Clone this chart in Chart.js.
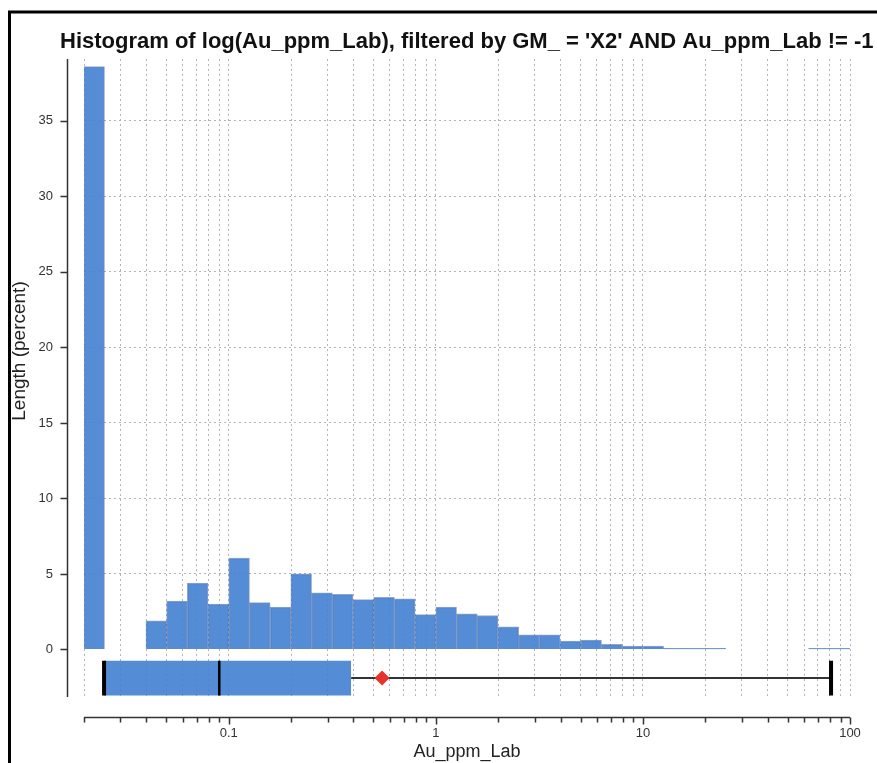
<!DOCTYPE html>
<html lang="en">
<head>
<meta charset="UTF-8">
<title>Histogram of log(Au_ppm_Lab)</title>
<script src="https://cdn.jsdelivr.net/npm/chart.js"></script>
<style>
  body { margin: 0; background: #fff; }
  #chart { display: block; }
</style>
</head>
<body>
<canvas id="chart" width="877" height="763"></canvas>
<script>
// histogram bins: 0.1 decade wide, first bin starts at log10 = -1.7
var binStartLog = -1.7;
var binStepLog = 0.1;
var binPercent = [38.6, null, null, 1.9, 3.2, 4.4, 3.0, 6.05, 3.1, 2.8, 5.0, 3.75,
                  3.65, 3.3, 3.45, 3.35, 2.3, 2.8, 2.35, 2.25, 1.5, 0.97, 0.97, 0.55,
                  0.62, 0.33, 0.22, 0.22, 0.07, 0.07, 0.07, null, null, null, null, 0.07, 0.07];

// box plot of Au_ppm_Lab
var boxStats = { min: 0.025, q1: 0.025, median: 0.09, q3: 0.39, max: 81, mean: 0.55 };

// axes
var xMin = 0.02, xMax = 100;
var xLabelValues = [0.1, 1, 10, 100];
var xLabelText = ['0.1', '1', '10', '100'];
var yMin = -3.15, yMax = 39.1, yStep = 5;

var titleText = "Histogram of log(Au_ppm_Lab), filtered by GM_ = 'X2' AND Au_ppm_Lab != -1";
var yTitle = 'Length (percent)';
var xTitle = 'Au_ppm_Lab';

// where the box sits below zero (y units)
var boxTop = -0.75, boxBottom = -3.05, boxMid = -1.9;

var histData = binPercent.map(function (p, i) {
  return { x: Math.pow(10, binStartLog + binStepLog * (i + 0.5)), y: p };
});

// every 1..9 x 10^n between xMin and xMax, for the grid
var xGridValues = [];
for (var e = -2; e <= 2; e++) {
  for (var m = 1; m <= 9; m++) {
    var v = +(m * Math.pow(10, e)).toPrecision(6);
    if (v >= xMin - 1e-9 && v <= xMax + 1e-9) xGridValues.push(v);
  }
}

function labelFor(value) {
  for (var i = 0; i < xLabelValues.length; i++) {
    if (Math.abs(value - xLabelValues[i]) / xLabelValues[i] < 1e-6) return xLabelText[i];
  }
  return '';
}

var FONT = '"Liberation Sans", Arial, sans-serif';
Chart.defaults.font.family = FONT;
Chart.defaults.color = '#333';

var gridGrey = '#b4b4b4';

var decorations = {
  id: 'decorations',
  beforeDraw: function (chart) {
    var ctx = chart.ctx;
    ctx.save();
    ctx.strokeStyle = '#000';
    ctx.lineWidth = 3;
    ctx.beginPath();
    ctx.moveTo(9.5, 763);
    ctx.lineTo(9.5, 12);
    ctx.lineTo(877, 12);
    ctx.stroke();
    ctx.restore();
  },
  afterDraw: function (chart) {
    var ctx = chart.ctx, area = chart.chartArea;
    var ys = chart.scales.y, xs = chart.scales.xAxis;
    ctx.save();
    ctx.strokeStyle = '#333';
    ctx.lineWidth = 1.5;

    // y spine, set off to the left of the plot
    var sx = Math.round(area.left - 17) + 0.5;
    ctx.beginPath();
    ctx.moveTo(sx, area.top);
    ctx.lineTo(sx, area.bottom);
    ys.ticks.forEach(function (t) {
      var py = Math.round(ys.getPixelForValue(t.value)) + 0.5;
      ctx.moveTo(sx - 7, py);
      ctx.lineTo(sx, py);
    });
    ctx.stroke();

    // x spine, set off below the plot
    var sy = Math.round(area.bottom + 20) + 0.5;
    ctx.beginPath();
    ctx.moveTo(area.left, sy);
    ctx.lineTo(area.right, sy);
    xs.ticks.forEach(function (t) {
      var px = Math.round(xs.getPixelForValue(t.value)) + 0.5;
      ctx.moveTo(px, sy);
      ctx.lineTo(px, sy + (labelFor(t.value) ? 7 : 5));
    });
    ctx.stroke();

    // titles
    ctx.fillStyle = '#111';
    ctx.textBaseline = 'middle';
    ctx.textAlign = 'left';
    ctx.font = 'bold 22px ' + FONT;
    ctx.fillText(titleText, 60, 42);

    ctx.fillStyle = '#222';
    ctx.font = '18px ' + FONT;
    ctx.textAlign = 'center';
    ctx.fillText(xTitle, (area.left + area.right) / 2, 752);

    ctx.translate(20, 351);
    ctx.rotate(-Math.PI / 2);
    ctx.font = '19px ' + FONT;
    ctx.fillText(yTitle, 0, 0);
    ctx.restore();
  }
};

function segment(points, color, width, order) {
  return {
    type: 'line', xAxisID: 'x', yAxisID: 'y', order: order,
    data: points, borderColor: color, borderWidth: width,
    pointRadius: 0, borderCapStyle: 'butt', fill: false
  };
}

var ctx = document.getElementById('chart').getContext('2d');
var chart = new Chart(ctx, {
  type: 'bar',
  data: {
    datasets: [
      {
        type: 'line', xAxisID: 'x', yAxisID: 'y', order: 0,
        data: [{ x: boxStats.mean, y: boxMid }],
        showLine: false, pointStyle: 'rectRot', pointRadius: 7.5,
        pointBackgroundColor: '#e8322e', pointBorderWidth: 0
      },
      segment([{ x: boxStats.min, y: boxTop }, { x: boxStats.min, y: boxBottom }], '#000', 4, 1),
      segment([{ x: boxStats.max, y: boxTop }, { x: boxStats.max, y: boxBottom }], '#000', 4, 1),
      segment([{ x: boxStats.median, y: boxTop }, { x: boxStats.median, y: boxBottom }], '#000', 2.5, 1),
      segment([{ x: boxStats.min, y: boxMid }, { x: boxStats.q1, y: boxMid }], '#333', 2, 2),
      segment([{ x: boxStats.q3, y: boxMid }, { x: boxStats.max, y: boxMid }], '#333', 2, 2),
      {
        type: 'line', xAxisID: 'x', yAxisID: 'y', order: 3,
        data: [{ x: boxStats.q1, y: boxTop }, { x: boxStats.q3, y: boxTop }],
        borderWidth: 0, pointRadius: 0,
        fill: { value: boxBottom }, backgroundColor: 'rgba(66,128,210,0.9)'
      },
      {
        label: 'Length (percent)', xAxisID: 'x', yAxisID: 'y', order: 4,
        data: histData,
        backgroundColor: 'rgba(66,128,210,0.9)',
        borderColor: 'rgba(40,80,150,0.5)',
        borderWidth: 1,
        barPercentage: 1, categoryPercentage: 1
      }
    ]
  },
  options: {
    responsive: false,
    animation: false,
    events: [],
    layout: { padding: { top: 59, right: 27, bottom: 0, left: 0 } },
    plugins: { legend: { display: false }, tooltip: { enabled: false }, title: { display: false } },
    scales: {
      x: {
        type: 'logarithmic', min: xMin, max: xMax, display: false,
        offset: false, grid: { offset: false },
        afterBuildTicks: function (s) { s.ticks = []; }
      },
      xAxis: {
        type: 'logarithmic', axis: 'x', position: 'bottom', min: xMin, max: xMax,
        offset: false,
        // invisible tick marks push the labels down below the set-off spine
        grid: { offset: false, color: gridGrey, lineWidth: 1, drawTicks: true, tickLength: 29, tickColor: 'rgba(0,0,0,0)' },
        border: { display: false, dash: [2, 3] },
        afterBuildTicks: function (s) {
          s.ticks = xGridValues.map(function (v) { return { value: v }; });
        },
        afterFit: function (s) { s.height = 66; },
        ticks: {
          autoSkip: false, maxRotation: 0, padding: 0,
          font: { size: 13 }, color: '#333',
          callback: function (value) { return labelFor(value); }
        }
      },
      y: {
        type: 'linear', min: yMin, max: yMax,
        grid: {
          drawTicks: false, lineWidth: 1,
          color: function (c) { return c.tick && c.tick.value === 0 ? 'rgba(0,0,0,0)' : gridGrey; }
        },
        border: { display: false, dash: [2, 3] },
        afterFit: function (s) { s.width = 84; },
        ticks: { stepSize: yStep, includeBounds: false, padding: 31, font: { size: 13 }, color: '#333' }
      }
    }
  },
  plugins: [decorations]
});
</script>
</body>
</html>
